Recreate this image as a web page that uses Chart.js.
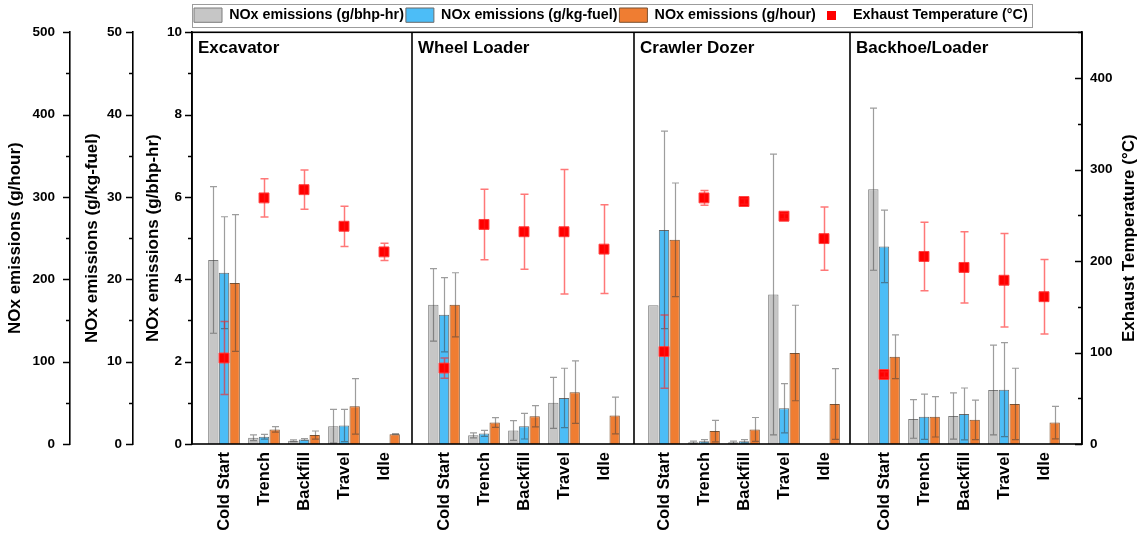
<!DOCTYPE html>
<html lang="en">
<head>
  <meta charset="UTF-8" />
  <title>NOx emissions by machine and activity</title>
  <script src="https://cdn.jsdelivr.net/npm/chart.js"></script>
  <style>
    body { margin: 0; background: #fff; }
    #wrap { width: 1144px; height: 537px; }
  </style>
</head>
<body>
  <div id="wrap"><canvas id="chart"></canvas></div>
  <script>
    const machines = ["Excavator", "Wheel Loader", "Crawler Dozer", "Backhoe/Loader"];
    const stages = ["Cold Start", "Trench", "Backfill", "Travel", "Idle"];

    // 5 values per machine, in the order of stages (no per-power / per-fuel data at idle)
    const bhpHr = [4.47, 0.15, 0.08, 0.43, null,  3.38, 0.21, 0.33, 1.00, null,  3.37, 0.04, 0.04, 3.63, null,  6.19, 0.61, 0.68, 1.31, null];
    const bhpHrSd = [1.78, 0.07, 0.02, 0.41, null,  0.88, 0.06, 0.24, 0.62, null,  0, 0.03, 0.03, 3.41, null,  1.97, 0.47, 0.56, 1.09, null];
    const kgFuel = [20.8, 0.88, 0.55, 2.25, null,  15.7, 1.29, 2.17, 5.6, null,  26.0, 0.33, 0.33, 4.34, null,  24.0, 3.3, 3.65, 6.6, null];
    const kgFuelSd = [6.8, 0.3, 0.12, 1.95, null,  4.5, 0.36, 1.56, 3.6, null,  12.0, 0.2, 0.2, 3.0, null,  4.4, 2.75, 3.15, 5.7, null];
    const perHour = [195.5, 17.7, 10.8, 45.8, 11.9,  169, 26.1, 33.7, 63, 34.6,  248, 15.7, 17.7, 110.5, 48.6,  106, 33, 29.3, 48.6, 26];
    const perHourSd = [83, 3.3, 5, 33.7, 0.6,  39, 6, 13, 38, 22.4,  69, 13, 14.5, 58, 43,  26.5, 24.5, 24, 43.4, 19.7];
    const exhaustT = [94, 269, 278, 238, 210,  83, 240, 232, 232, 213,  101, 269, 265, 249, 224.5,  76, 205, 193, 179, 161];
    const exhaustTSd = [40, 21, 21.5, 22, 9.5,  11, 38.5, 41, 68, 48.5,  40, 8, 3, 3, 34.5,  3, 37.5, 39, 51, 40.7];

    // x layout: one unit per activity, half a unit of extra gap between machines
    const positions = [];
    machines.forEach((m, p) => stages.forEach((s, k) => positions.push(1 + p * 5.5 + k)));
    const dividers = [5.7, 11.25, 16.65];
    const pts = vals => vals.map((v, i) => ({ x: positions[i], y: v }));

    const FONT = "'Liberation Sans', Arial, sans-serif";
    Chart.defaults.font.family = FONT;
    Chart.defaults.color = "#000";

    // small red square for the temperature legend entry
    const tempMark = document.createElement("canvas");
    tempMark.width = 9; tempMark.height = 9;
    const tm = tempMark.getContext("2d");
    tm.fillStyle = "#ff0000";
    tm.fillRect(0, 0, 9, 9);

    // error bars, drawn right after their own dataset
    const errorBars = {
      id: "errorBars",
      afterDatasetDraw(chart, args) {
        const ds = chart.data.datasets[args.index];
        if (!ds.errors) return;
        const ys = chart.scales[ds.yAxisID];
        const ctx = chart.ctx;
        ctx.save();
        ctx.strokeStyle = ds.errorColor;
        ctx.lineWidth = ds.errorWidth;
        args.meta.data.forEach((el, j) => {
          const v = ds.data[j].y, e = ds.errors[j];
          if (v == null || !e) return;
          const x = Math.round(el.x) + 0.5;
          const top = ys.getPixelForValue(v + e);
          const bot = ys.getPixelForValue(Math.max(v - e, ys.min));
          const c = ds.capWidth / 2;
          ctx.beginPath();
          ctx.moveTo(x, top); ctx.lineTo(x, bot);
          ctx.moveTo(x - c, top); ctx.lineTo(x + c, top);
          ctx.moveTo(x - c, bot); ctx.lineTo(x + c, bot);
          ctx.stroke();
        });
        ctx.restore();
      }
    };

    // frame, machine separators, panel names, tick marks, right title, legend border
    const decor = {
      id: "decor",
      afterInit(chart) {
        chart.legend.afterFit = function () { this.height = 23; };
      },
      afterDatasetsDraw(chart) {
        const { ctx, chartArea: a, scales } = chart;
        ctx.save();
        ctx.strokeStyle = "#000";
        ctx.lineWidth = 1.6;
        ctx.strokeRect(a.left, a.top, a.right - a.left, a.bottom - a.top);
        dividers.forEach(d => {
          const x = scales.x.getPixelForValue(d);
          ctx.beginPath(); ctx.moveTo(x, a.top); ctx.lineTo(x, a.bottom); ctx.stroke();
        });
        ctx.restore();
      },
      afterDraw(chart) {
        const { ctx, chartArea: a, scales } = chart;
        ctx.save();
        ctx.fillStyle = "#000";
        ctx.font = "bold 17px " + FONT;
        ctx.textBaseline = "alphabetic";
        const starts = [a.left].concat(dividers.map(d => scales.x.getPixelForValue(d)));
        machines.forEach((m, i) => ctx.fillText(m, starts[i] + 6, 53));

        // tick marks: outward on the left axes, inward on the right one
        ctx.strokeStyle = "#000";
        ctx.lineWidth = 1.5;
        ["yH", "yK", "yB", "yT"].forEach(id => {
          const s = scales[id];
          const edge = s.position === "left" ? s.right : s.left;
          s.ticks.forEach(t => {
            const y = Math.round(s.getPixelForValue(t.value)) + 0.5;
            const len = t.label !== "" ? 7 : 4;
            ctx.beginPath(); ctx.moveTo(edge - len, y); ctx.lineTo(edge, y); ctx.stroke();
          });
        });

        // right-hand axis title reads bottom to top like the left ones
        ctx.save();
        ctx.translate(scales.yT.right - 15, (a.top + a.bottom) / 2);
        ctx.rotate(-Math.PI / 2);
        ctx.textAlign = "center";
        ctx.textBaseline = "middle";
        ctx.fillText("Exhaust Temperature (\u00B0C)", 0, 0);
        ctx.restore();

        // box round the legend
        const hb = chart.legend.legendHitBoxes;
        const last = hb[hb.length - 1];
        const l = hb[0].left - 2, r = last.left + last.width + 4;
        ctx.strokeStyle = "#9c9c9c";
        ctx.lineWidth = 1;
        ctx.strokeRect(Math.round(l) + 0.5, chart.legend.top - 1.5, Math.round(r - l), 23);
        ctx.restore();
      }
    };

    const leftAxis = (title, max, step, labelEvery, weight, pad, titlePad, width) => ({
      position: "left",
      weight: weight,
      min: 0, max: max,
      grid: { display: false, drawTicks: false },
      border: { display: true, color: "#000", width: 1.6 },
      ticks: {
        stepSize: step,
        padding: pad,
        font: { size: 13.5, weight: "bold" },
        callback: v => (Math.abs(v % labelEvery) < 1e-9 ? v : "")
      },
      title: { display: true, text: title, font: { size: 17, weight: "bold" }, padding: { top: titlePad, bottom: 0 } },
      afterFit: s => { s.width = width; }
    });

    new Chart(document.getElementById("chart"), {
      type: "bar",
      data: {
        datasets: [
          {
            label: "NOx emissions (g/bhp-hr)", data: pts(bhpHr), yAxisID: "yB",
            backgroundColor: "#c6c6c6", borderColor: "#7c7c7c", borderWidth: 1,
            errors: bhpHrSd, errorColor: "rgba(60,60,60,0.5)", errorWidth: 1.2, capWidth: 7
          },
          {
            label: "NOx emissions (g/kg-fuel)", data: pts(kgFuel), yAxisID: "yK",
            backgroundColor: "#4cbdf7", borderColor: "#6b6b6b", borderWidth: 1,
            errors: kgFuelSd, errorColor: "rgba(60,60,60,0.5)", errorWidth: 1.2, capWidth: 7
          },
          {
            label: "NOx emissions (g/hour)", data: pts(perHour), yAxisID: "yH",
            backgroundColor: "#ef7d32", borderColor: "#7a5232", borderWidth: 1,
            errors: perHourSd, errorColor: "rgba(60,60,60,0.5)", errorWidth: 1.2, capWidth: 7
          },
          {
            type: "scatter", order: -1,
            label: "Exhaust Temperature (\u00B0C)", data: pts(exhaustT), yAxisID: "yT",
            pointStyle: "rect", pointRadius: 7, pointHoverRadius: 7,
            backgroundColor: "#ff0000", borderColor: "#ff4040", borderWidth: 1,
            errors: exhaustTSd, errorColor: "rgba(255,30,30,0.6)", errorWidth: 1.5, capWidth: 8
          }
        ]
      },
      options: {
        responsive: true,
        maintainAspectRatio: false,
        animation: false,
        layout: { padding: { top: 6, left: 0, right: 0, bottom: 0 } },
        datasets: { bar: { categoryPercentage: 0.8, barPercentage: 0.97 } },
        plugins: {
          tooltip: { enabled: false },
          legend: {
            position: "top",
            align: "start",
            fullSize: false,
            labels: {
              usePointStyle: true,
              pointStyleWidth: 28,
              boxHeight: 15,
              padding: 2,
              color: "#000",
              font: { size: 14.3, weight: "bold" },
              generateLabels(chart) {
                const items = Chart.defaults.plugins.legend.labels.generateLabels(chart);
                items.sort((p, q) => p.datasetIndex - q.datasetIndex);
                items.forEach(it => {
                  it.pointStyle = chart.data.datasets[it.datasetIndex].type === "scatter" ? tempMark : "rect";
                });
                return items;
              }
            }
          }
        },
        scales: {
          x: {
            type: "linear",
            offset: false,
            min: 0.2, max: 22.45,
            grid: { display: false, drawTicks: false },
            border: { display: false },
            afterBuildTicks: s => { s.ticks = positions.map(v => ({ value: v })); },
            afterFit: s => { s.height = 93; },
            ticks: {
              autoSkip: false,
              minRotation: 90, maxRotation: 90,
              padding: 8,
              font: { size: 16.5, weight: "bold" },
              callback: (v, i) => stages[i % stages.length]
            }
          },
          yH: leftAxis("NOx emissions (g/hour)", 500, 50, 100, 3, 15, 5, 70),
          yK: leftAxis("NOx emissions (g/kg-fuel)", 50, 5, 10, 2, 11, 12, 63),
          yB: leftAxis("NOx emissions (g/bhp-hr)", 10, 1, 2, 1, 10, 10, 59),
          yT: {
            position: "right",
            min: 0, max: 450,
            grid: { display: false, drawTicks: false },
            border: { display: true, color: "#000", width: 1.6 },
            ticks: {
              stepSize: 50,
              padding: 8,
              font: { size: 13.5, weight: "bold" },
              callback: v => (v % 100 === 0 ? v : "")
            },
            afterFit: s => { s.width = 62; }
          }
        }
      },
      plugins: [errorBars, decor]
    });
  </script>
</body>
</html>
